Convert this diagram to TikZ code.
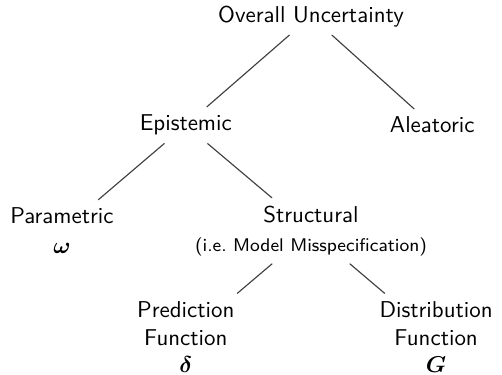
\documentclass[tikz,border=0pt]{standalone}
\usepackage{fontspec}
\usepackage{bm}
\begin{document}
\begin{tikzpicture}[x=1.0cm,y=1.0cm,every node/.style={font=\sffamily,align=center},branch/.style={draw=black!75,line width=0.5pt}]
		\useasboundingbox (0,0) rectangle (7.70,5.74);
		\node (overall) at (4.77,5.49) {Overall Uncertainty};
		\node (epi) at (2.85,3.82) {Epistemic};
		\node (alea) at (6.63,3.82) {Aleatoric};
		\node (para) at (0.95,2.20) {Parametric\\[1pt]$\bm{\omega}$};
		\node (struct) at (4.77,2.20) {Structural\\[0.5pt]{\footnotesize (i.e.\ Model Misspecification)}};
		\node (pred) at (2.85,0.57) {Prediction\\Function\\$\bm{\delta}$};
		\node (dist) at (6.69,0.57) {Distribution\\Function\\$\bm{G}$};
		\draw[branch] (overall) -- (epi);
		\draw[branch] (overall) -- (alea);
		\draw[branch] (epi) -- (para);
		\draw[branch] (epi) -- (struct);
		\draw[branch] (struct) -- (pred);
		\draw[branch] (struct) -- (dist);
		\end{tikzpicture}
\end{document}
